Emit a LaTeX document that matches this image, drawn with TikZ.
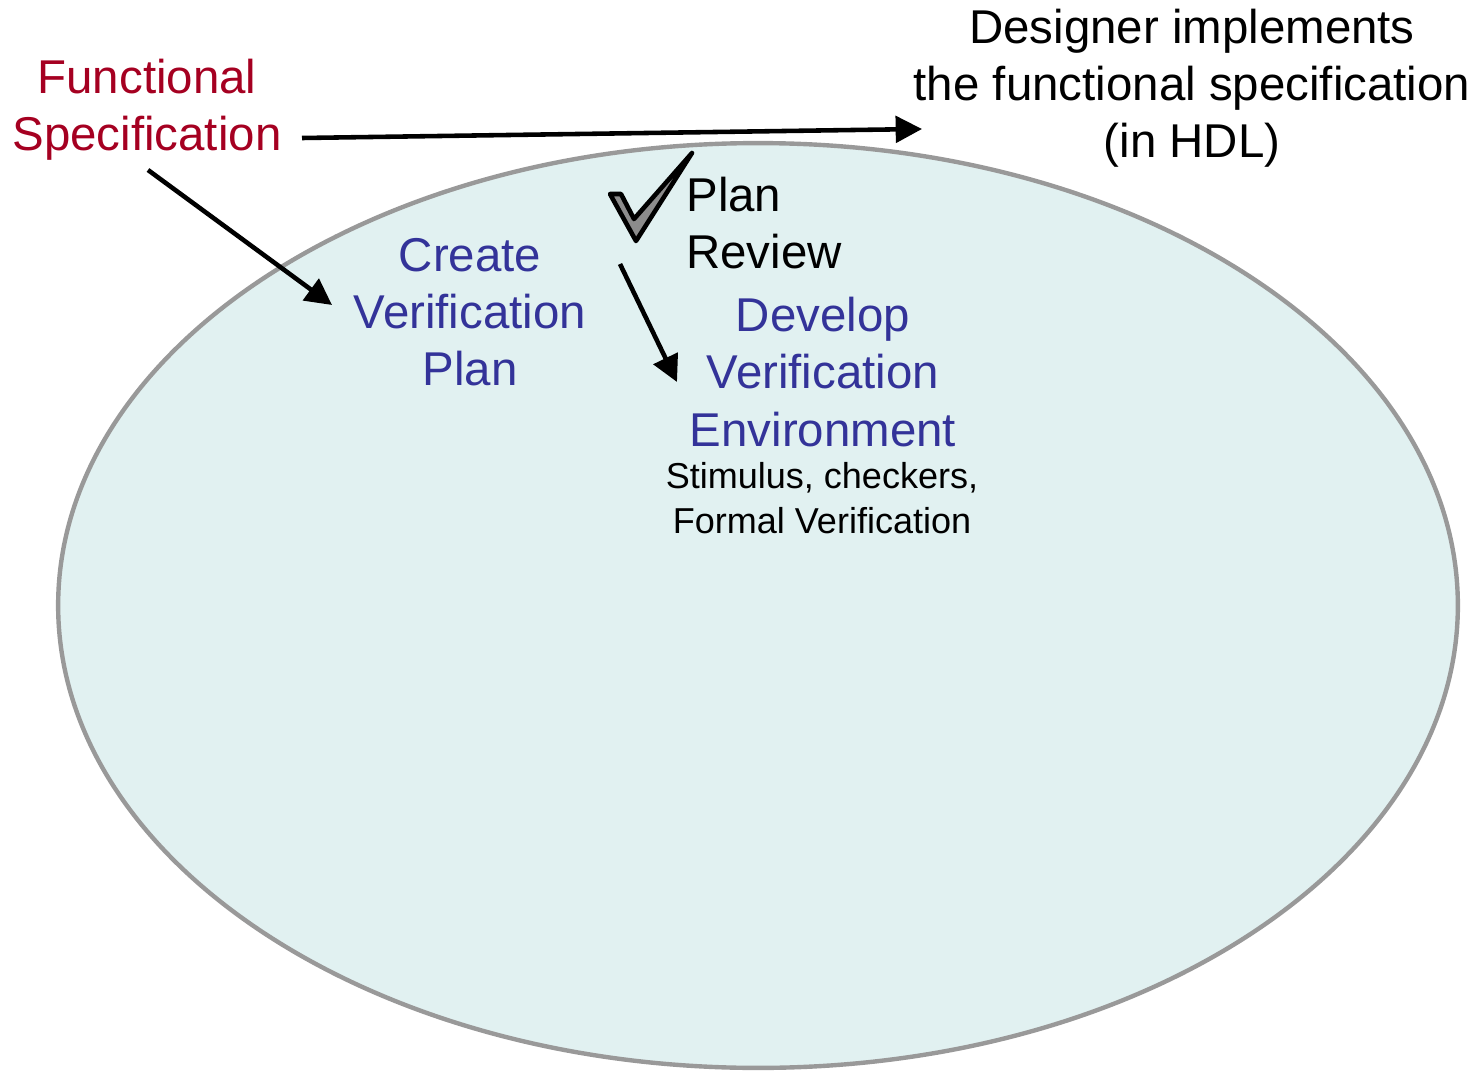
\documentclass[tikz,border=0pt]{standalone}
\usepackage{fontspec}
\setmainfont{Liberation Sans}
\usetikzlibrary{arrows.meta,shapes.geometric}
\definecolor{specred}{HTML}{A50021}
\definecolor{vblue}{HTML}{333399}
\definecolor{ellfill}{HTML}{E1F1F1}
\definecolor{ellline}{HTML}{999999}
\definecolor{checkgray}{HTML}{8C8C8C}
\tikzset{
  big/.style={font=\fontsize{27}{32.5}\selectfont, align=center, inner sep=0pt},
  small/.style={font=\fontsize{20.5}{25.6}\selectfont, align=center, inner sep=0pt},
  conn/.style={line width=2.6pt, -{Triangle[length=15pt,width=15pt]}, shorten >=0pt},
}
\begin{document}
\begin{tikzpicture}[x=0.02cm,y=-0.02cm]
\useasboundingbox (0,0) rectangle (1480,1071);
% ellipse
\node[ellipse, draw=ellline, fill=ellfill, line width=2.5pt, minimum width=28cm, minimum height=18.5cm, inner sep=0pt] (ell) at (758,605.5) {};
% texts
\node[big, text=specred] (fs) at (147,110) {Functional\\Specification};
\node[big] (des) at (1192,88) {Designer implements\\the functional specification\\(in HDL)};
\node[big, align=left, anchor=west] (pr) at (686,223) {Plan\\Review};
\node[big, text=vblue] (cvp) at (470,312) {Create\\Verification\\Plan};
\node[big, text=vblue] (dve) at (823,372) {Develop\\Verification\\Environment};
\node[small, anchor=north] (stim) at (822,462) {Stimulus, checkers,\\Formal Verification};
% connector endpoints
\coordinate (a1s) at (302,138);
\coordinate (a1e) at (922,129);
\coordinate (a2s) at (148,170);
\coordinate (a2e) at (332,305);
\coordinate (a3s) at (620,264);
\coordinate (a3e) at (677,382);
\draw[conn] (a1s) -- (a1e);
\draw[conn] (a2s) -- (a2e);
\draw[conn] (a3s) -- (a3e);
% checkmark
\draw[fill=checkgray, draw=black, line width=2.6pt, line join=round]
  (610,194) -- (621,194) -- (634,219) -- (692,153) -- (636,241) -- cycle;
\end{tikzpicture}
\end{document}
